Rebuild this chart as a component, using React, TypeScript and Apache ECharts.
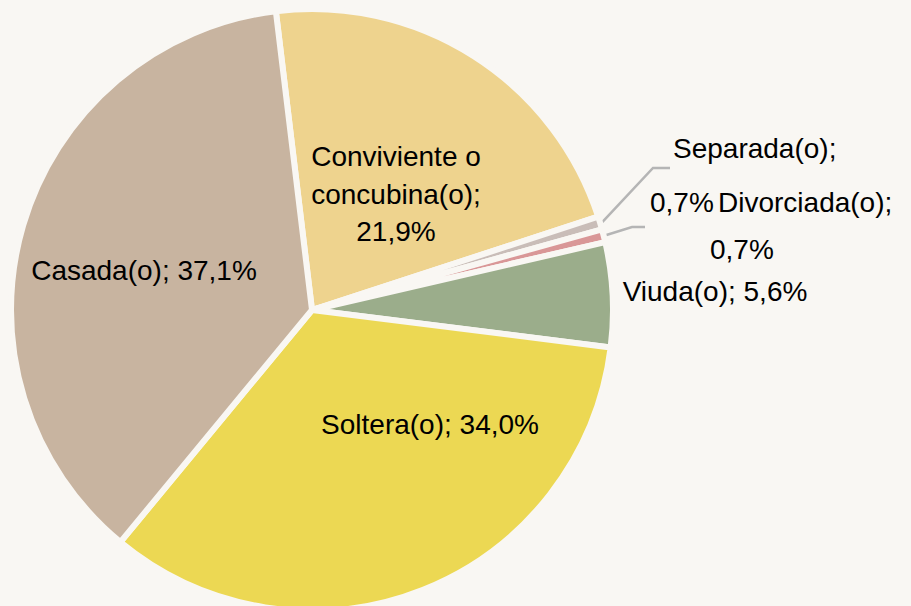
import React, { useEffect, useRef } from 'react';
import * as echarts from 'echarts';

// ---- data ----
const categories = ['Conviviente o concubina(o)', 'Separada(o)', 'Divorciada(o)', 'Viuda(o)', 'Soltera(o)', 'Casada(o)'];
const values = [21.9, 0.7, 0.7, 5.6, 34.0, 37.1];

// ---- style ----
const BG = '#f9f7f3';
const colors = ['#eed38e', '#c9bdb8', '#d99797', '#9bad8b', '#ecd853', '#c8b4a0'];
const FONT = "'Liberation Sans', Arial, Helvetica, sans-serif";
const FS = 28;

const fmt = (v: number) => v.toFixed(1).replace('.', ',') + '%';

// label placement (layout only)
const labelPlace: any[] = [
  { x: 396, y: 194, align: 'center', verticalAlign: 'middle' },
  { x: 650, y: 121, align: 'left', verticalAlign: 'top', line: [[653, 168], [670, 168]] },
  { x: 710, y: 178.5, align: 'left', verticalAlign: 'top', line: [[632, 227], [645, 227]] },
  { x: 715, y: 291, align: 'center', verticalAlign: 'middle' },
  { x: 430, y: 424, align: 'center', verticalAlign: 'middle' },
  { x: 144, y: 270, align: 'center', verticalAlign: 'middle' },
];

const CX = 312;
const CY = 310;
const START = 96.9;

function labelText(i: number): string {
  const name = categories[i];
  const v = fmt(values[i]);
  if (i === 0) return name.replace(' concubina', '\nconcubina') + ';\n' + v;
  if (i === 1) return `{a|${name};}\n{b|${v}}`;
  if (i === 2) return `{c|${name};}\n{d|${v}}`;
  return `${name}; ${v}`;
}

function anchor(i: number): number[] {
  const total = values.reduce((s, v) => s + v, 0);
  let cum = 0;
  for (let k = 0; k < i; k++) cum += values[k];
  const mid = ((cum + values[i] / 2) / total) * 360;
  const a = ((90 - START) + mid) * Math.PI / 180; // clockwise from top
  const r = 303;
  return [CX + r * Math.sin(a), CY - r * Math.cos(a)];
}

export default function App() {
  const ref = useRef<HTMLDivElement>(null);
  useEffect(() => {
    document.body.style.background = BG;
    const chart = echarts.init(ref.current!, null, { renderer: 'svg' });
    const richBase = { fontSize: FS, fontFamily: FONT, color: '#000' };
    chart.setOption({
      animation: false,
      backgroundColor: BG,
      series: [
        {
          type: 'pie',
          center: [CX, CY],
          radius: 301,
          startAngle: START,
          clockwise: true,
          avoidLabelOverlap: false,
          itemStyle: { borderColor: BG, borderWidth: 6 },
          label: {
            show: true,
            fontSize: FS,
            fontFamily: FONT,
            color: '#000',
            lineHeight: 37.5,
            formatter: (p: any) => labelText(p.dataIndex),
            rich: {
              a: { ...richBase, lineHeight: 54, padding: [0, 0, 0, 23] },
              b: { ...richBase, lineHeight: 54 },
              c: { ...richBase, lineHeight: 47, padding: [0, 0, 0, 8] },
              d: { ...richBase, lineHeight: 47 },
            },
          },
          labelLine: {
            show: false,
            lineStyle: { color: '#b5b5b5', width: 2.5 },
          },
          emphasis: { disabled: true },
          labelLayout: (params: any) => {
            const i = params.dataIndex;
            const pl = labelPlace[i];
            const out: any = { x: pl.x, y: pl.y, align: pl.align, verticalAlign: pl.verticalAlign };
            if (pl.line) {
              const p0 = anchor(i);
              out.labelLinePoints = [p0, pl.line[0], pl.line[1]];
            }
            return out;
          },
          data: categories.map((name, i) => ({
            name,
            value: values[i],
            itemStyle: { color: colors[i] },
            label: { position: i >= 1 && i <= 3 ? 'outside' : 'inside' },
            labelLine: { show: i === 1 || i === 2 },
          })),
        },
      ],
    });
    return () => chart.dispose();
  }, []);
  return <div ref={ref} style={{ position: 'absolute', left: 0, top: 0, width: 911, height: 606 }} />;
}
